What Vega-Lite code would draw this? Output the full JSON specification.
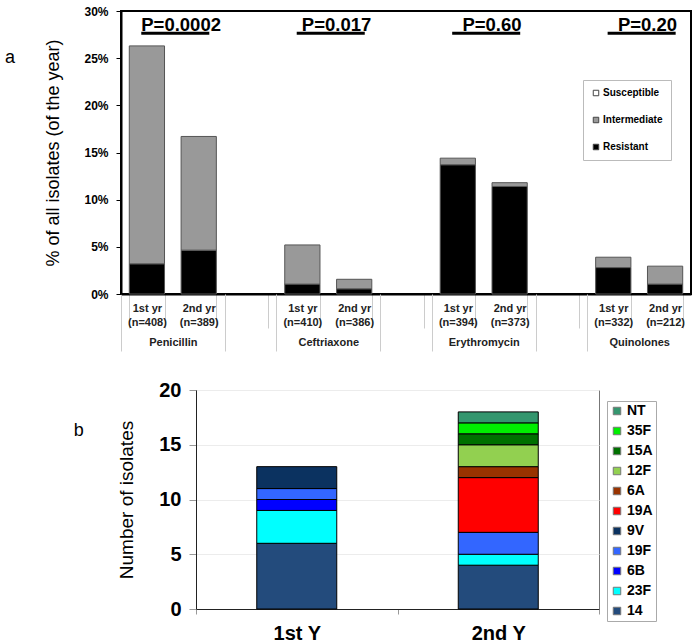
{
  "$schema": "https://vega.github.io/schema/vega-lite/v6.json",
  "padding": {"left": 2, "top": 4, "right": 0, "bottom": 0},
  "config": {"font": "Liberation Sans", "legend": {"labelLimit": 200}},
  "spacing": 26,
  "resolve": {"scale": {"color": "independent"}, "legend": {"color": "independent"}},
  "vconcat": [
    {
      "spacing": 0,
      "hconcat": [
        {
          "width": 1,
          "height": 10,
          "view": {"stroke": null},
          "data": {"values": []},
          "mark": "point"
        },
        {
          "width": 570,
          "height": 283,
          "title": {"text": "a", "orient": "left", "anchor": "end", "angle": 0, "align": "right", "baseline": "top", "fontSize": 18, "fontWeight": "normal", "color": "#000", "offset": 20, "dy": 44},
          "view": {"stroke": "#000", "strokeWidth": 2},
          "resolve": {"axis": {"x": "independent"}},
          "layer": [
            {
              "data": {"values": [
                {"slot": "Penicillin|1st yr|(n=408)", "status": "Resistant", "pct": 0.032},
                {"slot": "Penicillin|1st yr|(n=408)", "status": "Intermediate", "pct": 0.231},
                {"slot": "Penicillin|2nd yr|(n=389)", "status": "Resistant", "pct": 0.0465},
                {"slot": "Penicillin|2nd yr|(n=389)", "status": "Intermediate", "pct": 0.1205},
                {"slot": "Ceftriaxone|1st yr|(n=410)", "status": "Resistant", "pct": 0.0105},
                {"slot": "Ceftriaxone|1st yr|(n=410)", "status": "Intermediate", "pct": 0.0415},
                {"slot": "Ceftriaxone|2nd yr|(n=386)", "status": "Resistant", "pct": 0.0055},
                {"slot": "Ceftriaxone|2nd yr|(n=386)", "status": "Intermediate", "pct": 0.0101},
                {"slot": "Erythromycin|1st yr|(n=394)", "status": "Resistant", "pct": 0.137},
                {"slot": "Erythromycin|1st yr|(n=394)", "status": "Intermediate", "pct": 0.007},
                {"slot": "Erythromycin|2nd yr|(n=373)", "status": "Resistant", "pct": 0.114},
                {"slot": "Erythromycin|2nd yr|(n=373)", "status": "Intermediate", "pct": 0.004},
                {"slot": "Quinolones|1st yr|(n=332)", "status": "Resistant", "pct": 0.028},
                {"slot": "Quinolones|1st yr|(n=332)", "status": "Intermediate", "pct": 0.011},
                {"slot": "Quinolones|2nd yr|(n=212)", "status": "Resistant", "pct": 0.0105},
                {"slot": "Quinolones|2nd yr|(n=212)", "status": "Intermediate", "pct": 0.019}
              ]},
              "mark": {"type": "bar", "stroke": "#555", "strokeWidth": 1},
              "encoding": {
                "x": {
                  "field": "slot", "type": "nominal",
                  "sort": ["Penicillin|1st yr|(n=408)", "Penicillin|2nd yr|(n=389)", "gap1", "Ceftriaxone|1st yr|(n=410)", "Ceftriaxone|2nd yr|(n=386)", "gap2", "Erythromycin|1st yr|(n=394)", "Erythromycin|2nd yr|(n=373)", "gap3", "Quinolones|1st yr|(n=332)", "Quinolones|2nd yr|(n=212)"],
                  "scale": {"type": "band", "domain": ["Penicillin|1st yr|(n=408)", "Penicillin|2nd yr|(n=389)", "gap1", "Ceftriaxone|1st yr|(n=410)", "Ceftriaxone|2nd yr|(n=386)", "gap2", "Erythromycin|1st yr|(n=394)", "Erythromycin|2nd yr|(n=373)", "gap3", "Quinolones|1st yr|(n=332)", "Quinolones|2nd yr|(n=212)"], "paddingInner": 0.32, "paddingOuter": 0.16},
                  "axis": {"title": null, "orient": "bottom", "labelExpr": "slice(split(datum.value,'|'),1)", "labelAngle": 0, "labelFontSize": 11, "labelFontWeight": "bold", "labelColor": "#222", "labelBaseline": "top", "labelLineHeight": 14, "labelOverlap": false, "labelFlush": false, "tickBand": "extent", "tickSize": 34, "tickColor": "#cccccc", "tickWidth": 1, "labelPadding": -26, "domainColor": "#000", "domainWidth": 2}
                },
                "y": {
                  "field": "pct", "type": "quantitative", "stack": "zero",
                  "scale": {"domain": [0, 0.3]},
                  "axis": {"format": ".0%", "values": [0, 0.05, 0.1, 0.15, 0.2, 0.25, 0.3], "title": "% of all isolates (of the year)", "titleFontSize": 18, "titleFontWeight": "normal", "titleColor": "#000", "titlePadding": 21, "labelFontSize": 12, "labelFontWeight": "bold", "labelColor": "#000", "tickColor": "#000", "tickSize": 5, "labelPadding": 8, "domainColor": "#000", "domainWidth": 2, "grid": false}
                },
                "color": {
                  "field": "status", "type": "nominal",
                  "scale": {"domain": ["Susceptible", "Intermediate", "Resistant"], "range": ["#ffffff", "#999999", "#000000"]},
                  "legend": {"orient": "none", "legendX": 581, "legendY": 69, "title": null, "symbolType": "square", "symbolSize": 30, "symbolStrokeColor": "#444", "symbolStrokeWidth": 1, "labelFontSize": 10, "labelFontWeight": "bold", "labelColor": "#000", "rowPadding": 17, "padding": 8, "strokeColor": "#bbbbbb", "fillColor": "#ffffff", "labelOffset": 2}
                },
                "order": {"field": "status", "sort": "descending"}
              }
            },
            {
              "data": {"values": [
                {"slot2": "Penicillin|2nd yr|(n=389)", "p": "P=0.0002"},
                {"slot2": "Ceftriaxone|2nd yr|(n=386)", "p": "P=0.017"},
                {"slot2": "Erythromycin|2nd yr|(n=373)", "p": "P=0.60"},
                {"slot2": "Quinolones|2nd yr|(n=212)", "p": "P=0.20"}
              ]},
              "mark": {"type": "text", "fontSize": 18.5, "fontWeight": "bold", "baseline": "middle", "align": "center", "color": "#000"},
              "encoding": {
                "x": {
                  "field": "slot2", "type": "nominal", "bandPosition": 0,
                  "scale": {"type": "band", "domain": ["Penicillin|1st yr|(n=408)", "Penicillin|2nd yr|(n=389)", "gap1", "Ceftriaxone|1st yr|(n=410)", "Ceftriaxone|2nd yr|(n=386)", "gap2", "Erythromycin|1st yr|(n=394)", "Erythromycin|2nd yr|(n=373)", "gap3", "Quinolones|1st yr|(n=332)", "Quinolones|2nd yr|(n=212)"], "paddingInner": 0.32, "paddingOuter": 0.16},
                  "axis": {"title": null, "orient": "bottom", "domain": false, "bandPosition": 0.5, "tickOffset": -25.9, "labelExpr": "indexof(datum.value,'2nd yr')>=0 ? split(datum.value,'|')[0] : ''", "labelAngle": 0, "labelFontSize": 11, "labelFontWeight": "bold", "labelColor": "#222", "labelBaseline": "middle", "labelOverlap": false, "labelFlush": false, "tickSize": 57, "tickColor": "#cccccc", "tickWidth": 1, "tickOpacity": {"condition": {"test": "indexof(datum.value,'2nd yr')>=0", "value": 0}, "value": 1}, "labelPadding": -9}
                },
                "y": {"datum": 0.285, "type": "quantitative"},
                "text": {"field": "p"}
              }
            },
            {
              "data": {"values": [
                {"slot1": "Penicillin|1st yr|(n=408)", "slot2": "Penicillin|2nd yr|(n=389)"},
                {"slot1": "Ceftriaxone|1st yr|(n=410)", "slot2": "Ceftriaxone|2nd yr|(n=386)"},
                {"slot1": "Erythromycin|1st yr|(n=394)", "slot2": "Erythromycin|2nd yr|(n=373)"},
                {"slot1": "Quinolones|1st yr|(n=332)", "slot2": "Quinolones|2nd yr|(n=212)"}
              ]},
              "mark": {"type": "rule", "strokeWidth": 3, "color": "#000"},
              "encoding": {
                "x": {
                  "field": "slot1", "type": "nominal", "bandPosition": 0.34,
                  "scale": {"type": "band", "domain": ["Penicillin|1st yr|(n=408)", "Penicillin|2nd yr|(n=389)", "gap1", "Ceftriaxone|1st yr|(n=410)", "Ceftriaxone|2nd yr|(n=386)", "gap2", "Erythromycin|1st yr|(n=394)", "Erythromycin|2nd yr|(n=373)", "gap3", "Quinolones|1st yr|(n=332)", "Quinolones|2nd yr|(n=212)"], "paddingInner": 0.32, "paddingOuter": 0.16},
                  "axis": null
                },
                "x2": {"field": "slot2", "bandPosition": 0.8},
                "y": {"datum": 0.2765, "type": "quantitative"}
              }
            }
          ]
        }
      ]
    },
    {
      "spacing": 0,
      "hconcat": [
        {
          "width": 71,
          "height": 10,
          "view": {"stroke": null},
          "data": {"values": []},
          "mark": "point"
        },
        {
          "width": 403,
          "height": 219,
          "title": {"text": "b", "orient": "left", "anchor": "end", "angle": 0, "align": "right", "baseline": "top", "fontSize": 18, "fontWeight": "normal", "color": "#000", "offset": 24, "dy": 42},
          "view": {"stroke": "#777", "strokeWidth": 1},
          "data": {"values": [
            {"year": "1st Y", "serotype": "14", "rank": 1, "n": 6},
            {"year": "1st Y", "serotype": "23F", "rank": 2, "n": 3},
            {"year": "1st Y", "serotype": "6B", "rank": 3, "n": 1},
            {"year": "1st Y", "serotype": "19F", "rank": 4, "n": 1},
            {"year": "1st Y", "serotype": "9V", "rank": 5, "n": 2},
            {"year": "2nd Y", "serotype": "14", "rank": 1, "n": 4},
            {"year": "2nd Y", "serotype": "23F", "rank": 2, "n": 1},
            {"year": "2nd Y", "serotype": "19F", "rank": 4, "n": 2},
            {"year": "2nd Y", "serotype": "19A", "rank": 6, "n": 5},
            {"year": "2nd Y", "serotype": "6A", "rank": 7, "n": 1},
            {"year": "2nd Y", "serotype": "12F", "rank": 8, "n": 2},
            {"year": "2nd Y", "serotype": "15A", "rank": 9, "n": 1},
            {"year": "2nd Y", "serotype": "35F", "rank": 10, "n": 1},
            {"year": "2nd Y", "serotype": "NT", "rank": 11, "n": 1}
          ]},
          "mark": {"type": "bar", "stroke": "#000", "strokeWidth": 1, "width": 80},
          "encoding": {
            "x": {
              "field": "year", "type": "nominal",
              "scale": {"paddingInner": 0, "paddingOuter": 0},
              "axis": {"title": null, "labelAngle": 0, "labelFontSize": 20, "labelFontWeight": "bold", "labelColor": "#000", "tickBand": "extent", "tickSize": 5, "tickColor": "#999", "domainColor": "#222", "labelPadding": 9}
            },
            "y": {
              "field": "n", "type": "quantitative", "stack": "zero",
              "scale": {"domain": [0, 20]},
              "axis": {"values": [0, 5, 10, 15, 20], "title": "Number of isolates", "titleFontSize": 19, "titleFontWeight": "normal", "titleColor": "#000", "titlePadding": 22, "labelFontSize": 20, "labelFontWeight": "bold", "labelColor": "#000", "tickColor": "#999", "tickSize": 7, "gridColor": "#ececec", "domainColor": "#222", "labelPadding": 8}
            },
            "color": {
              "field": "serotype", "type": "nominal",
              "scale": {"domain": ["NT", "35F", "15A", "12F", "6A", "19A", "9V", "19F", "6B", "23F", "14"], "range": ["#34966E", "#00EE00", "#007000", "#92D050", "#993300", "#FF0000", "#0B3260", "#3366FF", "#0000FF", "#00FFFF", "#234B7C"]},
              "legend": {"orient": "none", "legendX": 605, "legendY": 11, "title": null, "symbolType": "square", "symbolSize": 56, "symbolStrokeColor": "#777", "symbolStrokeWidth": 1, "labelFontSize": 14, "labelFontWeight": "bold", "labelColor": "#000", "rowPadding": 6, "padding": 3, "strokeColor": "#aaaaaa", "fillColor": "#ffffff", "labelOffset": 3}
            },
            "order": {"field": "rank", "type": "quantitative"}
          }
        }
      ]
    }
  ]
}
